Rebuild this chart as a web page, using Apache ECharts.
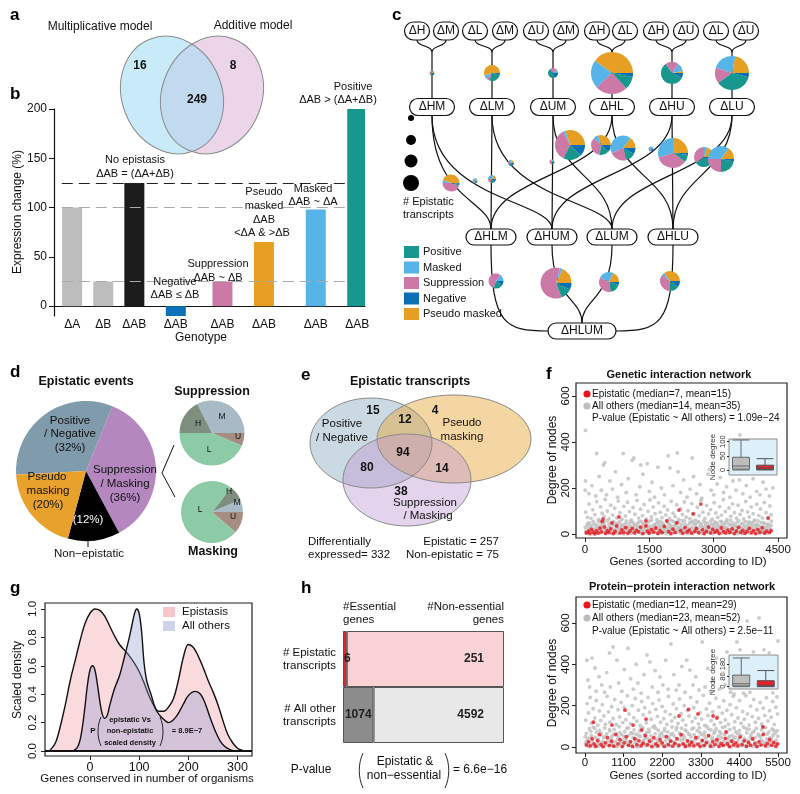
<!DOCTYPE html>
<html>
<head>
<meta charset="utf-8">
<title>Epistasis figure</title>
<script src="https://cdn.jsdelivr.net/npm/echarts@6.0.0/dist/echarts.min.js"></script>
<style>
html,body{margin:0;padding:0;background:#ffffff;}
#chart{width:800px;height:794px;}
</style>
</head>
<body>
<div id="chart"></div>
<script>
// ======================= DATA =======================
// (a) overlap of epistasis models
const modelNames = ['Multiplicative model', 'Additive model'];
const modelCounts = [16, 249, 8]; // only-multiplicative, both, only-additive

// (b) expression change
const genotypeLabels = ['ΔA','ΔB','ΔAB','ΔAB','ΔAB','ΔAB','ΔAB','ΔAB'];
const expressionChange = [100, 25, 125, -10, 25, 65, 98, 200];
const referenceLevels = [125, 100, 25];
const bTicks = [-10, 0, 50, 100, 150, 200];

// (c) deletion network
const epiTypes = ['Positive','Masked','Suppression','Negative','Pseudo masked'];
const pieSliceOrder = ['Pseudo masked','Masked','Suppression','Positive','Negative'];
const singleLabels = ['ΔH','ΔM','ΔL','ΔM','ΔU','ΔM','ΔH','ΔL','ΔH','ΔU','ΔL','ΔU'];
const doubleLabels = ['ΔHM','ΔLM','ΔUM','ΔHL','ΔHU','ΔLU'];
const tripleLabels = ['ΔHLM','ΔHUM','ΔLUM','ΔHLU'];
const quadLabel = 'ΔHLUM';
// edges double -> triple
const edges = [[0,0],[0,1],[1,0],[1,2],[2,1],[2,2],[3,0],[3,3],[4,1],[4,3],[5,2],[5,3]];
// slice shares in pieSliceOrder
const doublePies = [
  [1,1,1,1,1],[55,8,7,27,3],[0,10,25,45,20],[40,22,25,10,3],[3,12,20,58,7],[22,23,15,36,4]
];
const edgePies = [
  [45,5,45,3,2],[10,40,20,20,10],[20,30,20,15,15],[20,20,20,20,20],[10,20,50,10,10],[30,3,35,20,12],
  [30,8,35,15,12],[15,42,23,12,8],[0,50,20,10,20],[25,30,35,8,2],[20,5,35,30,10],[15,35,25,22,3]
];
const triplePies = [[0,15,55,20,10],[18,3,60,12,7],[18,25,35,17,5],[35,5,35,15,10]];
const sizeLegendLabel = ['# Epistatic','transcripts'];

// (d) epistatic events
const eventNames = ['Positive / Negative','Suppression / Masking','Non-epistatic','Pseudo masking'];
const eventShares = [32, 36, 12, 20];
const suppressionParts = ['M','U','L','H'];
const suppressionShares = [32.5, 6.4, 43.6, 17.5];
const maskingParts = ['H','M','U','L'];
const maskingShares = [8, 6.4, 11.4, 74.2];

// (e) epistatic transcripts venn
const vennE = {posNegOnly:15, posPseudo:12, pseudoOnly:4, all:94, posSupp:80, pseudoSupp:14, suppOnly:38};
const diffExpressed = 332, epistaticN = 257, nonEpistaticN = 75;

// (f) networks
const geneticTicksX = [0,1500,3000,4500];
const geneticTicksY = [0,200,400,600];
const ppiTicksX = [0,1100,2200,3300,4400,5500];
const ppiTicksY = [0,200,400,600];
const geneticGray = [
20,12,45,38,60,5,85,22,110,47,130,8,150,30,175,15,190,55,215,3,240,26,260,41,285,10,300,33,325,19,350,52,370,6,395,28,415,44,440,14,460,36,480,2,505,24,525,58,545,11,570,31,590,18,610,49,635,7,655,39,680,21,700,4,720,45,745,16,765,29,790,9,810,53,830,25,855,13,875,40,900,1,920,34,940,20,965,57,985,10,1005,27,1030,43,1050,6,1070,32,1095,17,1115,50,1140,12,1160,37,1180,3,1205,23,1225,46,1245,15,1270,30,1290,8,1310,55,1335,19,1355,41,1375,5,1400,28,1420,13,1445,48,1465,22,1485,2,1510,35,1530,18,1550,59,1575,9,1595,26,1615,42,1640,14,1660,31,1680,7,1705,51,1725,21,1745,38,1770,4,1790,24,1810,47,1835,11,1855,33,1875,16,1900,56,1920,8,1940,29,1965,44,1985,13,2005,36,2030,3,2050,22,2070,53,2095,17,2115,40,2135,6,2160,27,2180,49,2200,12,2225,32,2245,19,2265,58,2290,9,2310,25,2330,43,2355,15,2375,35,2395,2,2420,21,2440,46,2460,10,2485,30,2505,54,2525,7,2550,24,2570,39,2590,14,2615,50,2635,18,2655,4,2680,33,2700,45,2720,11,2745,27,2765,57,2785,8,2810,37,2830,20,2850,48,2875,5,2895,29,2915,16,2940,42,2960,23,2980,1,3005,34,3025,52,3045,13,3070,26,3090,41,3110,9,3135,31,3155,55,3175,17,3200,3,3220,38,3240,22,3265,47,3285,12,3305,28,3330,6,3350,44,3370,19,3395,59,3415,10,3435,32,3460,24,3480,4,3500,40,3525,15,3545,51,3565,27,3590,8,3610,36,3630,18,3655,46,3675,2,3695,30,3720,13,3740,53,3760,21,3785,7,3805,39,3825,25,3850,49,3870,11,3890,34,3915,17,3935,56,3955,5,3980,28,4000,43,4020,14,4045,37,4065,3,4085,23,4110,50,4130,9,4150,31,4175,19,4195,45,4215,6,4240,26,4260,41,4280,12,4305,35,4325,20,4345,54,
10,28,35,3,70,48,100,18,120,33,160,1,200,42,225,16,270,6,310,57,340,24,380,39,405,11,450,52,490,20,515,7,555,43,600,29,620,3,665,55,690,13,730,34,755,2,780,47,820,17,845,36,890,24,910,8,950,46,975,29,1015,14,1060,54,1085,4,1125,25,1150,40,1195,9,1235,33,1260,52,1300,21,1320,2,1365,45,1390,16,1430,34,1455,5,1500,56,1520,27,1560,12,1605,37,1630,20,1670,47,1695,1,1735,29,1760,55,1800,10,1825,40,1865,23,1890,3,1930,48,1955,18,1995,30,2020,58,2060,8,2085,35,2125,14,2150,51,2190,25,2215,4,2255,42,2280,19,2320,57,2345,7,2385,31,2410,13,2450,50,2475,22,2515,2,2540,44,2580,26,2605,9,2645,54,2670,17,2710,38,2735,3,2775,28,2800,49,2840,12,2865,33,2905,6,2930,56,2970,20,2995,41,3035,8,3060,48,3100,24,3125,1,3165,36,3190,52,3230,11,3255,30,3295,55,3320,16,3360,4,3385,39,3425,21,3450,47,3490,10,3515,33,3555,2,3580,58,3620,26,3645,13,3685,44,3710,5,3750,35,3775,18,3815,52,3840,3,3880,29,3905,46,3945,14,3970,38,4010,22,4035,57,4075,8,4100,33,4140,15,4165,49,4205,27,4230,2,4270,43,4295,19,4335,36,
15,95,55,72,95,130,140,68,180,105,230,84,275,140,320,63,360,118,400,90,445,75,470,150,520,100,560,66,600,125,645,82,695,112,740,70,775,143,815,92,860,64,905,120,945,78,990,138,1035,97,1080,61,1120,115,1165,86,1215,146,1250,69,1295,108,1340,80,1380,128,1425,65,1470,99,1515,148,1545,74,1590,117,1635,88,1675,62,1715,135,1755,94,1795,71,1845,121,1885,83,1925,104,1970,67,2010,142,2055,90,2100,76,2140,127,2185,63,2230,110,2270,85,2315,139,2360,73,2400,101,2445,66,2490,132,2535,89,2575,60,2620,116,2660,79,2705,147,2750,95,2795,68,2835,124,2880,87,2925,106,2965,64,3010,136,3050,91,3095,72,3140,119,3180,82,3225,149,3270,98,3310,62,3355,113,3400,77,3440,131,3485,93,3530,69,3570,125,3615,85,3660,102,3700,65,3745,141,3790,96,3830,74,3875,118,3920,88,3960,61,4005,129,4050,80,4090,109,4135,70,4180,137,4220,92,4265,66,4310,122,4340,84,
5,190,10,230,90,175,160,210,250,165,330,250,380,190,430,300,460,310,500,170,580,230,640,195,710,270,760,160,850,215,890,350,960,180,1010,240,1100,320,1140,330,1190,170,1280,205,1350,260,1450,305,1500,185,1560,225,1620,160,1700,290,1780,200,1850,170,1940,340,1980,287,2050,210,2150,352,2170,270,2230,180,2300,235,2380,160,2450,195,2530,250,2600,175,2680,215,2720,155,2870,260,2940,190,3000,170,3080,217,3150,245,3230,180,3300,205,3380,160,3450,230,3520,190,3600,235,3680,175,3760,210,3850,160,3920,240,4000,185,4080,170,4150,225,4220,195,4300,165,4380,200,
10,450,270,350,3610,430,2500,330,2900,280,1300,300
];
const geneticRed = [
30,5,80,12,110,2,150,20,190,8,230,1,270,15,310,4,350,25,380,9,420,65,400,55,450,30,480,3,520,14,560,6,600,22,630,48,660,2,700,11,740,35,790,74,820,4,860,18,900,7,950,28,1000,3,1050,13,1100,24,1150,5,1200,16,1250,9,1300,30,1350,2,1420,57,1420,35,1460,12,1500,4,1550,19,1600,8,1650,26,1700,3,1750,14,1800,6,1850,33,1910,57,1950,10,2000,2,2050,21,2100,7,2140,48,2190,104,2230,15,2280,3,2330,28,2380,9,2430,17,2480,4,2520,87,2560,12,2600,24,2650,6,2700,130,2740,18,2780,2,2830,11,2880,30,2930,5,2980,20,3030,8,3080,14,3130,3,3180,26,3230,10,3280,4,3330,17,3380,7,3430,22,3480,2,3530,13,3580,29,3630,6,3680,16,3730,3,3780,11,3830,24,3880,5,3930,15,3980,2,4030,19,4080,8,4130,27,4180,4,4230,12,4270,70,4300,6,4340,14
];
const ppiGray = [
15,20,40,65,70,8,95,42,125,88,150,15,180,55,210,30,240,95,265,4,295,48,325,72,350,12,380,36,410,80,440,22,470,58,500,3,530,44,560,92,590,17,620,63,650,28,680,6,710,77,740,38,770,52,800,10,830,85,860,25,890,66,920,2,950,47,980,98,1010,19,1040,60,1070,33,1100,8,1130,74,1160,41,1190,90,1220,14,1250,56,1280,27,1310,69,1340,5,1370,45,1400,83,1430,21,1460,62,1490,35,1520,1,1550,78,1580,50,1610,13,1640,94,1670,32,1700,58,1730,7,1760,70,1790,40,1820,86,1850,18,1880,54,1910,29,1940,96,1970,11,2000,64,2030,37,2060,3,2090,81,2120,46,2150,23,2180,67,2210,9,2240,51,2270,89,2300,31,2330,15,2360,73,2390,42,2420,6,2450,60,2480,97,2510,26,2540,53,2570,12,2600,84,2630,39,2660,2,2690,68,2720,34,2750,91,2780,17,2810,57,2840,44,2870,8,2900,76,2930,24,2960,63,2990,4,3020,49,3050,87,3080,20,3110,59,3140,36,3170,10,3200,79,3230,47,3260,93,3290,16,3320,61,3350,30,3380,5,3410,72,3440,43,3470,99,3500,25,3530,55,3560,14,3590,82,3620,38,3650,1,3680,66,3710,33,3740,88,3770,19,3800,52,3830,75,3860,9,3890,45,3920,95,3950,27,3980,60,4010,13,4040,71,4070,40,4100,6,4130,85,4160,29,4190,56,4220,18,4250,92,4280,48,4310,3,4340,65,4370,35,4400,80,4430,11,4460,54,4490,26,4520,97,4550,41,4580,7,4610,69,4640,31,4670,86,4700,15,4730,58,4760,37,4790,2,4820,77,4850,46,4880,90,4910,21,4940,62,4970,9,5000,50,5030,83,5060,28,5090,67,5120,12,5150,94,5180,39,5210,5,5240,73,5270,44,5300,24,5330,87,5360,57,5390,16,5420,68,5450,33,5480,79,
5,50,55,30,110,2,165,75,225,12,280,90,340,40,395,6,455,68,515,25,575,50,635,9,695,84,755,20,815,62,875,4,935,36,995,70,1055,14,1115,52,1175,28,1235,92,1295,10,1355,65,1415,38,1475,3,1535,56,1595,86,1655,22,1715,44,1775,12,1835,73,1895,35,1955,2,2015,90,2075,26,2135,58,2195,16,2255,78,2315,5,2375,47,2435,30,2495,66,2555,20,2615,95,2675,11,2735,53,2795,36,2855,82,2915,4,2975,61,3035,27,3095,92,3155,14,3215,45,3275,70,3335,8,3395,57,3455,24,3515,88,3575,3,3635,48,3695,76,3755,13,3815,34,3875,64,3935,7,3995,98,4055,23,4115,51,4175,2,4235,39,4295,74,4355,17,4415,60,4475,6,4535,32,4595,89,4655,10,4715,46,4775,71,4835,25,4895,4,4955,55,5015,34,5075,96,5135,20,5195,63,5255,8,5315,42,5375,81,5435,14,5495,52,
20,130,60,210,100,165,150,240,190,115,235,185,280,140,320,225,365,105,410,175,450,128,495,205,540,150,585,110,630,245,670,170,715,120,760,195,805,138,850,230,895,108,940,180,985,145,1030,215,1075,118,1120,190,1165,132,1210,248,1255,160,1300,112,1345,200,1390,142,1435,235,1480,125,1525,178,1570,104,1615,220,1660,155,1705,190,1750,117,1795,240,1840,168,1885,134,1930,210,1975,102,2020,182,2065,148,2110,228,2155,120,2200,196,2245,137,2290,172,2335,109,2380,244,2425,158,2470,126,2515,208,2560,143,2605,185,2650,114,2695,232,2740,162,2785,130,2830,200,2875,106,2920,176,2965,150,3010,240,3055,123,3100,190,3145,140,3190,218,3235,112,3280,166,3325,135,3370,250,3415,104,3460,184,3505,152,3550,212,3595,127,3640,170,3685,108,3730,236,3775,146,3820,194,3865,118,3910,164,3955,224,4000,131,4045,178,4090,110,4135,205,4180,156,4225,245,4270,122,4315,190,4360,140,4405,225,4450,115,4495,172,4540,134,4585,248,4630,160,4675,107,4720,198,4765,147,4810,230,4855,120,4900,180,4945,139,4990,215,5035,111,5080,188,5125,152,5170,238,5215,126,5260,176,5305,144,5350,220,5395,109,5440,192,5485,160,
55,420,200,430,285,382,85,324,130,290,320,270,400,340,480,300,560,265,620,360,700,455,720,290,800,484,910,420,960,310,1050,270,1120,375,1230,478,1300,330,1380,280,1460,400,1510,310,1600,260,1680,350,1770,445,1850,411,1920,290,2000,370,2080,265,2140,339,2220,300,2300,420,2370,280,2450,498,2530,350,2600,275,2680,300,2760,390,2850,265,2900,420,2990,372,3080,300,3160,340,3250,276,3340,508,3420,290,3500,380,3580,270,3660,320,3750,430,3830,280,3930,358,4000,300,4046,460,4150,265,4250,255,4330,508,4420,470,4520,260,4700,265,4800,460,4960,624,5100,470,5250,455,5350,262,5470,242,5500,513,4620,610
];
const ppiRed = [
240,120,1140,178,2950,182,2680,150,3220,160,3650,150,3760,140,1740,135,770,106,1370,106,1620,82,5070,97,4020,73,
40,10,100,25,150,5,200,40,260,15,310,3,360,30,410,60,460,12,520,2,580,20,640,45,700,8,760,28,820,4,880,60,940,15,1000,35,1060,2,1120,20,1180,50,1240,8,1300,25,1360,3,1420,40,1480,12,1540,30,1600,5,1660,18,1720,55,1780,10,1840,28,1900,2,1960,45,2020,15,2080,6,2140,35,2200,20,2260,3,2320,50,2380,12,2440,28,2500,4,2560,18,2620,40,2680,8,2740,60,2800,15,2860,3,2920,30,2980,10,3040,22,3100,5,3160,45,3220,14,3280,2,3340,32,3400,8,3460,20,3520,55,3580,4,3640,25,3700,12,3760,35,3820,3,3880,18,3940,8,4000,42,4060,15,4120,2,4180,28,4240,10,4300,20,4360,5,4420,48,4480,12,4540,30,4600,3,4660,22,4720,8,4780,40,4840,15,4900,2,4960,25,5020,10,5080,60,5140,5,5200,18,5260,35,5320,8,5380,22,5440,3,5490,15
];
const boxCategories = ['All others','Epistatic'];
const geneticBox = [[0,3,14,45,106],[0,2,7,17,40]];
const ppiBox = [[0,6,23,92,228],[0,3,12,48,128]];
const geneticInsetTicks = [0,50,100];
const ppiInsetTicks = [0,80,180];
const geneticLegend = ['Epistatic (median=7, mean=15)','All others (median=14, mean=35)','P-value (Epistatic ~ All others) = 1.09e\u221224'];
const ppiLegend = ['Epistatic (median=12, mean=29)','All others (median=23, mean=52)','P-value (Epistatic ~ All others) = 2.5e\u221211'];

// (g) conservation density
const epistasisX = [-85,-80,-70,-60,-50,-40,-30,-20,-10,0,10,20,30,40,50,60,70,80,90,100,110,120,130,140,150,160,170,180,190,200,210,220,230,240,250,260,270,280,290,300,310,320];
const epistasisY = [0,0.01,0.06,0.18,0.33,0.5,0.64,0.78,0.9,0.97,1.0,0.99,0.95,0.88,0.81,0.75,0.71,0.67,0.62,0.56,0.48,0.39,0.32,0.28,0.28,0.31,0.37,0.5,0.66,0.75,0.73,0.67,0.59,0.5,0.42,0.33,0.22,0.12,0.06,0.02,0.005,0];
const allOthersX = [-35,-30,-25,-20,-15,-10,-5,0,5,10,15,20,25,30,35,40,50,60,70,80,85,90,95,100,105,110,115,120,125,130,136,145,160,175,190,200,214,225,235,245,255,265,275,285,295];
const allOthersY = [0,0.01,0.03,0.08,0.18,0.32,0.47,0.57,0.6,0.57,0.47,0.35,0.26,0.23,0.25,0.32,0.44,0.53,0.66,0.8,0.88,0.96,1.0,0.97,0.84,0.62,0.5,0.44,0.39,0.33,0.28,0.24,0.2,0.24,0.33,0.39,0.42,0.4,0.33,0.23,0.14,0.07,0.03,0.01,0];
const gTicksX = [0,100,200,300];
const gTicksY = [0,0.2,0.4,0.6,0.8,1.0];

// (h) essential genes mosaic
const hRows = ['Epistatic','All other'];
const essentialCounts = [6, 1074];
const nonEssentialCounts = [251, 4592];

// ======================= STYLE / LAYOUT =======================
const FF = '"Liberation Sans", Arial, Helvetica, sans-serif';
const COL = {pos:'#17978e', masked:'#56b4e9', supp:'#cc79a7', neg:'#0b6fb3', pseudo:'#e69f22'};
const typeColor = {'Positive':COL.pos,'Masked':COL.masked,'Suppression':COL.supp,'Negative':COL.neg,'Pseudo masked':COL.pseudo};
const barColors = ['#bdbdbd','#bdbdbd','#1c1c1c','#0b72b5','#cc79a7','#e69f22','#56b4e9','#17978e'];
const genotypeSlots = [3,9,15,23,32,40,50,58];
const SLOT_COUNT = 60;
const refLineSpan = [1, 56]; // slot range covered by the dashed reference lines
const layoutC = {
  singleX:[417,446,475,505,536,566,597,625,656,686,716,746], singleY:31,
  doubleX:[432,492,553,612,672,732], doubleY:107,
  tripleX:[491,552,612,673], tripleY:237,
  quad:[582,331],
  edgeBend:[200,200,175,200,175,175,175,175,175,175,175,175],
  doublePieAt:[[432,73,2.5],[492,73,8],[553,73,5],[612,73,21],[672,73,11],[732,73,17]],
  edgePieAt:[[451,183,8.5],[475,181,2.5],[492,179,4],[511,163,3],[552,162,2.5],[570,145,15],[601,145,10],[623,148,12.5],[651,149,2.5],[673,153,15],[704,157,10],[721,159,13]],
  triplePieAt:[[496,281,7.5],[556,283,15.5],[609,282,10],[670,281,10]]
};

// ======================= GRAPHIC HELPERS =======================
const G = [];
function T(x, y, text, size, o) {
  o = o || {};
  const al = o.align || 'center';
  G.push({type:'text', x:x, y:y, rotation:o.rot || 0, z:o.z || 40, silent:true,
    style:{text:text, fill:o.color || '#111', font:(o.bold ? 'bold ' : '') + size + 'px ' + FF,
      textAlign:al, textVerticalAlign:'middle', align:al, verticalAlign:'middle'}});
}
function Rc(x, y, w, h, fill, stroke, lw, r, z) {
  G.push({type:'rect', z:z || 20, silent:true, shape:{x:x, y:y, width:w, height:h, r:r || 0},
    style:{fill:fill, stroke:stroke || null, lineWidth:lw || 0}});
}
function Ci(cx, cy, r, fill, z) {
  G.push({type:'circle', z:z || 20, silent:true, shape:{cx:cx, cy:cy, r:r}, style:{fill:fill}});
}
function Bz(x1, y1, c1x, c1y, c2x, c2y, x2, y2, lw, z) {
  G.push({type:'bezierCurve', z:z || 1, silent:true,
    shape:{x1:x1, y1:y1, cpx1:c1x, cpy1:c1y, cpx2:c2x, cpy2:c2y, x2:x2, y2:y2},
    style:{stroke:'#111', fill:null, lineWidth:lw || 1.2}});
}
function Ln(pts, lw, color, z, dash) {
  G.push({type:'polyline', z:z || 1, silent:true, shape:{points:pts},
    style:{stroke:color || '#111', fill:null, lineWidth:lw || 1.2, lineDash:dash || null}});
}
function El(cx, cy, rx, ry, rot, fill, stroke, z) {
  G.push({type:'ellipse', x:cx, y:cy, rotation:rot, z:z || 5, silent:true,
    shape:{cx:0, cy:0, rx:rx, ry:ry}, style:{fill:fill || null, stroke:stroke || null, lineWidth:1}});
}
function paren(x, yTop, yBot, bulge) {
  Bz(x, yTop, x + bulge, yTop + (yBot - yTop) * 0.3, x + bulge, yTop + (yBot - yTop) * 0.7, x, yBot, 0.9, 40);
}
function toPairs(flat) { const out = []; for (let i = 0; i < flat.length; i += 2) out.push([flat[i], flat[i + 1]]); return out; }
function zipXY(xs, ys) { return xs.map((x, i) => [x, ys[i]]); }

// ---------- panel letters ----------
[['a',10,15],['b',10,94],['c',392,15],['d',10,372],['e',301,375],['f',546,374],['g',10,588],['h',301,588]]
  .forEach(p => T(p[1], p[2], p[0], 17, {bold:true, align:'left', color:'#000'}));

// ---------- (a) venn ----------
T(100, 27, modelNames[0], 12);
T(253, 26, modelNames[1], 12);
El(212, 95, 50, 60, -0.38, '#ecd5e8', null, 3);
El(172, 95, 50, 60, 0.38, 'rgba(165,222,245,0.6)', null, 4);
El(212, 95, 50, 60, -0.38, null, '#8a8a8a', 6);
El(172, 95, 50, 60, 0.38, null, '#8a8a8a', 6);
T(140, 66, String(modelCounts[0]), 12, {bold:true});
T(197, 100, String(modelCounts[1]), 12, {bold:true});
T(233, 66, String(modelCounts[2]), 12, {bold:true});

// ---------- (b) annotations ----------
T(18, 212, 'Expression change (%)', 12, {rot:Math.PI / 2});
T(201, 338, 'Genotype', 12);
T(135, 160, 'No epistasis', 11); T(135, 174, 'ΔAB = (ΔA+ΔB)', 11);
T(175, 282, 'Negative', 11); T(175, 295, 'ΔAB ≤ ΔB', 11);
T(218, 264, 'Suppression', 11); T(218, 278, 'ΔAB ~ ΔB', 11);
T(264, 192, 'Pseudo', 11); T(264, 206, 'masked', 11); T(264, 220, 'ΔAB', 11); T(262, 233, '<ΔA & >ΔB', 11);
T(313, 189, 'Masked', 11); T(313, 202, 'ΔAB ~ ΔA', 11);
T(353, 87, 'Positive', 11); T(338, 100, 'ΔAB > (ΔA+ΔB)', 11);

// ---------- (c) tree ----------
const pillTop = 22, pillH = 18;
layoutC.singleX.forEach((x, i) => {
  Rc(x - 12.5, pillTop, 25, pillH, '#fff', '#111', 1.2, 9, 20);
  T(x, pillTop + pillH / 2, singleLabels[i], 12, {z:41});
});
for (let k = 0; k < 6; k++) {
  const xl = layoutC.singleX[2 * k], xr = layoutC.singleX[2 * k + 1], xm = layoutC.doubleX[k];
  Bz(xl, 40, xl, 47, xm, 45, xm, 52);
  Bz(xr, 40, xr, 47, xm, 45, xm, 52);
  Ln([[xm, 52], [xm, 99]]);
}
layoutC.doubleX.forEach((x, i) => {
  Rc(x - 22.5, 98.5, 45, 17, '#fff', '#111', 1.2, 8.5, 20);
  T(x, 107, doubleLabels[i], 12, {z:41});
});
edges.forEach((e, k) => {
  const xa = layoutC.doubleX[e[0]], xb = layoutC.tripleX[e[1]], bend = layoutC.edgeBend[k];
  if (Math.abs(xa - xb) < 3) Ln([[xa, 115.5], [xb, 229]]);
  else Bz(xa, 115.5, xa, bend, xb, bend, xb, 229);
});
layoutC.tripleX.forEach((x, i) => {
  Rc(x - 25, 229, 50, 16, '#fff', '#111', 1.2, 8, 20);
  T(x, 237, tripleLabels[i], 12, {z:41});
});
Bz(491, 245, 491, 326, 506, 331, 548, 331);
Bz(552, 245, 552, 300, 582, 298, 582, 323);
Bz(612, 245, 612, 300, 582, 298, 582, 323);
Bz(673, 245, 673, 326, 658, 331, 616, 331);
Rc(548, 323, 68, 16, '#fff', '#111', 1.2, 8, 20);
T(582, 331, quadLabel, 12, {z:41});
// size legend
[[118, 3], [140, 5], [161, 6.5], [183, 8]].forEach(s => Ci(411, s[0], s[1], '#000', 20));
T(403, 202, sizeLegendLabel[0], 11, {align:'left'});
T(403, 215, sizeLegendLabel[1], 11, {align:'left'});
// colour legend
epiTypes.forEach((t, i) => {
  const yc = 252 + i * 15.5;
  Rc(404, yc - 6, 15, 12, typeColor[t], null, 0, 0, 20);
  T(423, yc, t, 11, {align:'left'});
});

// ---------- (d) annotations ----------
T(86, 382, 'Epistatic events', 12.5, {bold:true});
T(70, 421, 'Positive', 11.5); T(70, 434, '/ Negative', 11.5); T(70, 448, '(32%)', 11.5);
T(125, 470, 'Suppression', 11.5); T(125, 484, '/ Masking', 11.5); T(125, 498, '(36%)', 11.5);
T(47, 477, 'Pseudo', 11.5); T(48, 491, 'masking', 11.5); T(48, 505, '(20%)', 11.5);
T(88, 520, '(12%)', 11.5, {color:'#fff'});
T(89, 554, 'Non\u2212epistatic', 11.5);
Ln([[88, 541], [88, 547]], 1, '#111', 40);
T(212, 392, 'Suppression', 12.5, {bold:true});
T(213, 552, 'Masking', 12.5, {bold:true});
Ln([[174, 445], [162, 473], [175, 497]], 1, '#111', 40);
T(222, 417, 'M', 8.5); T(198, 424, 'H', 8.5); T(238, 437, 'U', 8.5); T(209, 450, 'L', 8.5);
T(229, 492, 'H', 8.5); T(237, 503, 'M', 8.5); T(233, 517, 'U', 8.5); T(200, 510, 'L', 8.5);

// ---------- (e) venn ----------
T(410, 382, 'Epistatic transcripts', 12.5, {bold:true});
El(371, 443, 61, 45, 0, 'rgba(130,165,185,0.42)', null, 3);
El(454, 439, 77, 44, 0, 'rgba(230,165,50,0.45)', null, 4);
El(407, 480, 64, 46, 0, 'rgba(190,150,210,0.42)', null, 5);
El(371, 443, 61, 45, 0, null, '#8a8a8a', 6);
El(454, 439, 77, 44, 0, null, '#8a8a8a', 6);
El(407, 480, 64, 46, 0, null, '#8a8a8a', 6);
T(373, 411, String(vennE.posNegOnly), 12, {bold:true});
T(405, 420, String(vennE.posPseudo), 12, {bold:true});
T(435, 411, String(vennE.pseudoOnly), 12, {bold:true});
T(403, 453, String(vennE.all), 12, {bold:true});
T(367, 468, String(vennE.posSupp), 12, {bold:true});
T(442, 469, String(vennE.pseudoSupp), 12, {bold:true});
T(401, 492, String(vennE.suppOnly), 12, {bold:true});
T(342, 424, 'Positive', 11.5); T(342, 438, '/ Negative', 11.5);
T(462, 423, 'Pseudo', 11.5); T(462, 437, 'masking', 11.5);
T(425, 503, 'Suppression', 11.5); T(428, 516, '/ Masking', 11.5);
T(308, 542, 'Differentially', 11.5, {align:'left'});
T(308, 555, 'expressed= ' + diffExpressed, 11.5, {align:'left'});
T(499, 542, 'Epistatic = ' + epistaticN, 11.5, {align:'right'});
T(499, 555, 'Non-epistatic = ' + nonEpistaticN, 11.5, {align:'right'});

// ---------- (f) ----------
T(679, 375, 'Genetic interaction network', 11, {bold:true});
T(682, 587, 'Protein\u2212protein interaction network', 11, {bold:true});
T(553, 460, 'Degree of nodes', 12, {rot:Math.PI / 2});
T(553, 683, 'Degree of nodes', 12, {rot:Math.PI / 2});
T(688, 562, 'Genes (sorted according to ID)', 11.5);
T(688, 776, 'Genes (sorted according to ID)', 11.5);
[[394, 605], [406, 618], [418, 631]].forEach((yy, i) => {
  if (i < 2) { Ci(587, yy[0], 3.6, i === 0 ? '#e8141c' : '#bdbdbd', 45); Ci(587, yy[1], 3.6, i === 0 ? '#e8141c' : '#bdbdbd', 45); }
  T(592, yy[0], geneticLegend[i], 10, {align:'left'});
  T(592, yy[1], ppiLegend[i], 10, {align:'left'});
});
T(713, 457, 'Node degree', 8, {rot:Math.PI / 2, color:'#333'});
T(713, 672, 'Node degree', 8, {rot:Math.PI / 2, color:'#333'});

// ---------- (g) ----------
T(18, 680, 'Scaled density', 12, {rot:Math.PI / 2});
T(147, 779, 'Genes conserved in number of organisms', 11.5);
Rc(163, 607, 12, 10, '#f6c6cb', null, 0, 0, 40);
Rc(163, 621, 12, 10, '#cdd3ea', null, 0, 0, 40);
T(182, 612, 'Epistasis', 11.5, {align:'left'});
T(182, 626, 'All others', 11.5, {align:'left'});
T(93, 731, 'P', 8, {bold:true});
paren(101, 717, 746, -4);
T(130, 720, 'epistatic Vs', 7.5, {bold:true});
T(130, 731, 'non-epistatic', 7.5, {bold:true});
T(130, 743, 'scaled density', 7.5, {bold:true});
paren(160, 717, 746, 4);
T(187, 731, '= 8.9E\u22127', 7.5, {bold:true});

// ---------- (h) ----------
T(343, 607, '#Essential', 11.5, {align:'left'});
T(343, 620, 'genes', 11.5, {align:'left'});
T(504, 607, '#Non-essential', 11.5, {align:'right'});
T(504, 620, 'genes', 11.5, {align:'right'});
T(311, 770, 'P-value', 12);
paren(363, 753, 788, -5);
T(405, 762, 'Epistatic &', 12);
T(404, 776, 'non\u2212essential', 12);
paren(445, 753, 788, 5);
T(453, 770, '= 6.6e\u221216', 12, {align:'left'});

// ======================= SERIES =======================
const series = [];

// (b) bars
const slotNames = [], slotLabel = {}, barData = [];
for (let i = 0; i < SLOT_COUNT; i++) { slotNames.push('s' + i); barData.push('-'); }
genotypeSlots.forEach((s, i) => {
  slotLabel['s' + s] = genotypeLabels[i];
  barData[s] = {value:expressionChange[i], itemStyle:{color:barColors[i]}};
});
function refLine(level, color) {
  return [{xAxis:slotNames[refLineSpan[0]], yAxis:level, lineStyle:{color:color, type:[11, 6], width:1.1}},
          {xAxis:slotNames[refLineSpan[1]], yAxis:level}];
}
series.push({type:'bar', xAxisIndex:0, yAxisIndex:0, barWidth:20, data:barData, silent:true, z:3,
  markLine:{silent:true, symbol:'none', label:{show:false}, animation:false,
    data:[refLine(referenceLevels[0], '#222'), refLine(referenceLevels[1], '#aaa'), refLine(referenceLevels[2], '#aaa')]}});

// (c) pies
function pieSeries(at, vals) {
  return {type:'pie', center:[at[0], at[1]], radius:at[2], startAngle:0, clockwise:false, silent:true,
    animation:false, z:5, label:{show:false}, labelLine:{show:false}, avoidLabelOverlap:false,
    itemStyle:{borderWidth:0}, emphasis:{disabled:true},
    data:vals.map((v, i) => ({value:v, name:pieSliceOrder[i], itemStyle:{color:typeColor[pieSliceOrder[i]]}}))};
}
doublePies.forEach((v, i) => series.push(pieSeries(layoutC.doublePieAt[i], v)));
edgePies.forEach((v, i) => series.push(pieSeries(layoutC.edgePieAt[i], v)));
triplePies.forEach((v, i) => series.push(pieSeries(layoutC.triplePieAt[i], v)));

// (d) pies
const eventColors = ['#7f9bac', '#b487bf', '#000000', '#e8a12b'];
series.push({type:'pie', center:[86, 471], radius:70, startAngle:183, clockwise:true, silent:true, z:5,
  label:{show:false}, labelLine:{show:false}, itemStyle:{borderWidth:0},
  data:eventShares.map((v, i) => ({value:v, name:eventNames[i], itemStyle:{color:eventColors[i]}}))});
const partColors = {H:'#7e8f80', M:'#a9bac7', U:'#a68d82', L:'#8ccba6'};
series.push({type:'pie', center:[212, 433], radius:32.5, startAngle:117, clockwise:true, silent:true, z:5,
  label:{show:false}, labelLine:{show:false}, itemStyle:{borderWidth:0},
  data:suppressionShares.map((v, i) => ({value:v, name:suppressionParts[i], itemStyle:{color:partColors[suppressionParts[i]]}}))});
series.push({type:'pie', center:[212, 512], radius:31, startAngle:52, clockwise:true, silent:true, z:5,
  label:{show:false}, labelLine:{show:false}, itemStyle:{borderWidth:0},
  data:maskingShares.map((v, i) => ({value:v, name:maskingParts[i], itemStyle:{color:partColors[maskingParts[i]]}}))});

// (f) scatter + inset boxplots
series.push({type:'scatter', xAxisIndex:1, yAxisIndex:1, data:toPairs(geneticGray), symbolSize:3.9, itemStyle:{color:'#bfbfbf'}, silent:true, z:2});
series.push({type:'scatter', xAxisIndex:1, yAxisIndex:1, data:toPairs(geneticRed), symbolSize:3.8, itemStyle:{color:'#e8141c'}, silent:true, z:3});
series.push({type:'scatter', xAxisIndex:3, yAxisIndex:3, data:toPairs(ppiGray), symbolSize:3.9, itemStyle:{color:'#bfbfbf'}, silent:true, z:2});
series.push({type:'scatter', xAxisIndex:3, yAxisIndex:3, data:toPairs(ppiRed), symbolSize:3.8, itemStyle:{color:'#e8141c'}, silent:true, z:3});
function boxSeries(ax, vals) {
  return {type:'boxplot', xAxisIndex:ax, yAxisIndex:ax, boxWidth:[17, 17], silent:true, z:6,
    data:[{value:vals[0], itemStyle:{color:'#bdbdbd', borderColor:'#666', borderWidth:1}},
          {value:vals[1], itemStyle:{color:'#e8202a', borderColor:'#555', borderWidth:1}}]};
}
series.push(boxSeries(2, geneticBox));
series.push(boxSeries(4, ppiBox));

// (g) densities
series.push({type:'line', xAxisIndex:5, yAxisIndex:5, data:zipXY(epistasisX, epistasisY), smooth:0.35, symbol:'none',
  silent:true, z:3, lineStyle:{color:'#111', width:1.4}, areaStyle:{color:'rgba(240,150,160,0.5)'},
  markLine:{silent:true, symbol:'none', label:{show:false}, data:[{yAxis:0}], lineStyle:{color:'#111', width:2, type:'solid'}}});
series.push({type:'line', xAxisIndex:5, yAxisIndex:5, data:zipXY(allOthersX, allOthersY), smooth:0.35, symbol:'none',
  silent:true, z:4, lineStyle:{color:'#111', width:1.4}, areaStyle:{color:'rgba(145,155,210,0.5)'}});

// (h) mosaic
const rowTotals = essentialCounts.map((v, i) => v + nonEssentialCounts[i]);
const essColors = ['#e8232b', '#8c8c8c'];
const nonColors = ['#f9d2d6', '#e8e8e8'];
series.push({type:'bar', xAxisIndex:6, yAxisIndex:6, stack:'m', barWidth:'100%', silent:true, z:3,
  data:essentialCounts.map((v, i) => ({value:v / rowTotals[i], itemStyle:{color:essColors[i], borderColor:'#555', borderWidth:1},
    label:{show:true, position:i === 0 ? 'insideLeft' : 'inside', distance:1, formatter:String(v), fontSize:12, fontWeight:'bold', color:'#222', fontFamily:FF}}))});
series.push({type:'bar', xAxisIndex:6, yAxisIndex:6, stack:'m', barWidth:'100%', silent:true, z:3,
  data:nonEssentialCounts.map((v, i) => ({value:v / rowTotals[i], itemStyle:{color:nonColors[i], borderColor:'#555', borderWidth:1},
    label:{show:true, position:'insideRight', distance:20, formatter:String(v), fontSize:12, fontWeight:'bold', color:'#222', fontFamily:FF}}))});

// ======================= AXES =======================
const boxGrid = {show:true, borderColor:'#222', borderWidth:1.2, backgroundColor:'transparent', outerBoundsMode:'none', containLabel:false};
function rValueAxis(grid, min, max, ticks, labelExtra) {
  return {gridIndex:grid, type:'value', min:min, max:max,
    axisLine:{show:false, onZero:false}, splitLine:{show:false},
    axisTick:{show:true, length:4, customValues:ticks, lineStyle:{color:'#222'}},
    axisLabel:Object.assign({customValues:ticks, fontSize:11.5, color:'#111', margin:5, fontFamily:FF, formatter:v => String(v)}, labelExtra || {})};
}
const xG = rValueAxis(1, -210, 4709, geneticTicksX, {margin:6});
const xP = rValueAxis(3, -256, 5757, ppiTicksX, {margin:4});
const xD = rValueAxis(5, -91.6, 329.7, gTicksX, {fontSize:12.5, margin:5});
const yG = rValueAxis(1, -17.4, 656, geneticTicksY, {rotate:90, margin:4});
const yGi = rValueAxis(2, -17.7, 109.5, geneticInsetTicks, {rotate:90, fontSize:7.5, color:'#333', margin:2});
yGi.axisTick.length = 2;
const yP = rValueAxis(3, -29, 725.7, ppiTicksY, {rotate:90, margin:4});
const yPi = rValueAxis(4, -18.3, 251.5, ppiInsetTicks, {rotate:90, fontSize:7.5, color:'#333', margin:2});
yPi.axisTick.length = 2;
const yD = rValueAxis(5, -0.035, 1.042, gTicksY, {rotate:90, margin:6, formatter:v => Number(v).toFixed(1)});

const option = {
  animation:false,
  backgroundColor:'#ffffff',
  textStyle:{fontFamily:FF},
  grid:[
    {left:54, top:109, width:311, height:207, outerBoundsMode:'none', containLabel:false},
    Object.assign({left:576, top:383, width:211, height:155}, boxGrid),
    {left:729, top:439, width:48, height:36, show:true, backgroundColor:'#dcf0fb', borderColor:'#8a8a8a', borderWidth:1, outerBoundsMode:'none'},
    Object.assign({left:576, top:597, width:211, height:156}, boxGrid),
    {left:729, top:655, width:49, height:34, show:true, backgroundColor:'#dcf0fb', borderColor:'#8a8a8a', borderWidth:1, outerBoundsMode:'none'},
    Object.assign({left:45, top:603, width:207, height:153}, boxGrid),
    {left:343, top:631, width:161, height:112, outerBoundsMode:'none', containLabel:false}
  ],
  xAxis:[
    {gridIndex:0, type:'category', data:slotNames, axisLine:{onZero:true, lineStyle:{color:'#111', width:1.2}},
      axisTick:{show:false}, splitLine:{show:false},
      axisLabel:{interval:0, margin:3, fontSize:12, color:'#111', fontFamily:FF, formatter:v => slotLabel[v] || ''}},
    xG,
    {gridIndex:2, type:'category', data:boxCategories, show:false},
    xP,
    {gridIndex:4, type:'category', data:boxCategories, show:false},
    xD,
    {gridIndex:6, type:'value', min:0, max:1, show:false}
  ],
  yAxis:[
    {gridIndex:0, type:'value', min:-10, max:200, splitLine:{show:false},
      axisLine:{show:true, onZero:false, lineStyle:{color:'#111', width:1.2}},
      axisTick:{show:true, length:5, customValues:bTicks, lineStyle:{color:'#111'}},
      axisLabel:{customValues:bTicks, fontSize:12, color:'#111', margin:7, fontFamily:FF}},
    yG, yGi, yP, yPi, yD,
    {gridIndex:6, type:'category', inverse:true, data:hRows, axisLine:{show:false}, axisTick:{show:false}, splitLine:{show:false},
      axisLabel:{fontSize:11.5, lineHeight:13, margin:7, color:'#111', align:'right', fontFamily:FF,
        formatter:v => v === 'Epistatic' ? '# Epistatic\ntranscripts' : '# All other\ntranscripts'}}
  ],
  series:series,
  graphic:{elements:G}
};
const chart = echarts.init(document.getElementById('chart'), null, {renderer:'canvas', width:800, height:794});
chart.setOption(option);
</script>
</body>
</html>
